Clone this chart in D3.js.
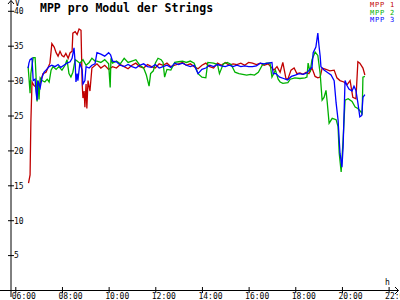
<!DOCTYPE html>
<html>
<head>
<meta charset="utf-8">
<script src="https://cdn.jsdelivr.net/npm/d3@7"></script>
<style>
  body { margin: 0; background: #fff; }
  svg { display: block; font-family: "DejaVu Sans Mono", monospace; }
</style>
</head>
<body>
<svg id="chart"></svg>
<script>
// Tick labels
const xTicks = [6, 8, 10, 12, 14, 16, 18, 20, 22];
const yTicks = [5, 10, 15, 20, 25, 30, 35, 40];
const seriesNames = ["MPP 1", "MPP 2", "MPP 3"];

// MPP 1 (red)
const mpp1Times = ["06:34","06:38","06:40","06:43","06:48","06:56","07:04","07:11","07:19","07:29","07:34","07:40","07:45","07:50","07:55","08:00","08:05","08:10","08:16","08:21","08:26","08:28","08:34","08:39","08:44","08:49","08:52","08:54","08:57","08:59","09:02","09:04","09:07","09:12","09:17",
  "09:30","09:40","09:50","10:00","10:10","10:20","10:30","10:40","10:50","11:00","11:10","11:20","11:30","11:40","11:50","12:00","12:10","12:20","12:30","12:40","12:50","13:00","13:10","13:20","13:30","13:40","13:50","14:00","14:10","14:20","14:30","14:40","14:50","15:00","15:10","15:20","15:30","15:40","15:50","16:00","16:10","16:20","16:30","16:40","16:50",
  "17:05","17:13","17:21","17:28","17:36","17:41","17:49","17:57","18:04","18:12","18:20","18:28","18:35","18:43","18:51","18:58","19:04","19:09","19:19","19:29","19:40","19:47","19:55","20:05","20:13","20:21","20:28","20:36","20:41","20:46","20:54","20:59"];
const mpp1Values = [15.3,16.5,24.0,29.8,29.3,29.0,29.6,31.0,31.2,32.5,35.3,34.8,34.0,33.5,34.2,33.6,33.4,33.9,33.2,34.0,34.2,36.8,37.0,36.6,37.4,37.2,29.5,27.5,28.5,26.2,29.5,26.0,30.0,28.5,31.8,
  32.4,31.8,32.2,31.6,32.0,31.8,32.3,32.0,31.7,32.2,32.5,32.0,31.8,32.3,32.0,31.8,32.4,32.2,32.5,32.0,32.2,32.4,32.6,32.2,32.4,32.0,31.7,32.2,32.5,32.0,31.8,32.5,32.2,32.6,32.2,32.4,32.3,32.5,32.2,32.6,32.5,32.3,32.5,32.2,32.4,
  31.5,32.0,31.2,32.6,30.3,30.2,31.5,31.8,31.0,31.1,30.9,31.2,31.0,31.8,30.6,30.4,30.5,31.8,31.6,31.4,31.5,30.4,30.0,29.8,29.4,30.0,27.6,27.4,32.7,32.5,31.8,30.8];

// MPP 2 (green)
const mpp2Times = ["06:33","06:35","06:38","06:40","06:46","06:51","06:53","06:56","06:58","07:01","07:04","07:09","07:16","07:22","07:27","07:32","07:37","07:45","07:52","08:00","08:08","08:13","08:18","08:23","08:28","08:34","08:39","08:46","08:54","09:02","09:10","09:17","09:25",
  "09:30","09:40","09:50","10:00","10:04","10:06","10:10","10:20","10:30","10:40","10:50","11:00","11:10","11:20","11:30","11:37","11:44","11:48","11:55","12:00","12:07","12:15","12:20","12:24","12:30","12:40","12:50","13:00","13:10","13:20","13:30","13:40","13:50","14:00","14:10","14:15","14:30","14:40","14:45","14:55","15:05","15:15","15:25","15:35","15:45","15:55","16:05","16:15","16:25","16:35","16:45","16:55","17:00",
  "17:09","17:16","17:21","17:28","17:41","17:47","17:59","18:12","18:25","18:30","18:33","18:38","18:43","18:51","18:58","19:04","19:09","19:14","19:19","19:22","19:27","19:35","19:45","19:50","19:53","19:58","20:03","20:08","20:16","20:26","20:34","20:41","20:49","20:52","20:54","20:59"];
const mpp2Values = [32.0,30.5,28.2,31.0,33.3,33.3,31.0,27.0,30.0,27.3,30.4,30.0,29.8,30.2,29.8,31.5,32.0,31.6,32.0,31.5,32.2,33.0,31.0,30.5,31.2,33.0,32.8,32.5,33.0,32.2,32.6,33.2,32.8,
  32.8,32.6,33.0,32.4,29.0,33.2,32.5,32.8,32.4,33.2,32.6,32.8,33.0,32.2,31.8,30.8,29.2,31.0,31.4,32.5,33.2,33.0,32.6,30.5,31.6,31.5,32.6,32.7,32.8,32.6,32.8,32.5,31.0,30.5,30.4,32.6,32.5,32.3,31.0,32.4,32.6,32.3,31.2,31.0,30.9,30.8,30.9,30.8,31.2,32.2,32.5,32.5,30.5,
  31.5,30.2,29.8,29.6,29.7,30.2,30.4,30.3,30.4,30.5,32.5,31.2,33.0,34.1,33.6,31.0,27.2,27.6,28.6,27.0,23.9,24.6,24.4,23.4,19.6,16.9,21.5,27.2,27.4,27.0,26.2,26.0,25.5,25.3,30.5,30.6];

// MPP 3 (blue)
const mpp3Times = ["06:33","06:35","06:38","06:43","06:46","06:51","06:53","06:56","06:58","07:04","07:09","07:14","07:19","07:27","07:34","07:42","07:50","07:57","08:05","08:13","08:21","08:26","08:31","08:34","08:36","08:39","08:41","08:46","08:52","08:54","08:59","09:02","09:10","09:17","09:25",
  "09:30","09:40","09:50","10:00","10:05","10:10","10:20","10:30","10:40","10:50","11:00","11:10","11:20","11:30","11:40","11:50","12:00","12:10","12:20","12:30","12:40","12:50","13:00","13:10","13:20","13:30","13:40","13:50","14:00","14:10","14:20","14:30","14:40","14:50","15:00","15:10","15:20","15:30","15:40","15:50","16:00","16:10","16:20","16:30","16:40","16:50","17:00",
  "17:03","17:10","17:20","17:30","17:40","17:50","18:00","18:10","18:20","18:30","18:37","18:43","18:46","18:53","18:58","19:01","19:04","19:06","19:14","19:22","19:32","19:40","19:45","19:50","19:55","20:00","20:03","20:08","20:13","20:18","20:26","20:31","20:36","20:41","20:46","20:51","20:54","20:59"];
const mpp3Values = [31.8,32.5,33.0,33.2,30.0,30.2,28.5,27.2,30.0,29.0,30.5,31.2,31.5,32.0,32.2,32.0,32.3,31.9,32.2,32.5,32.7,33.2,34.7,32.5,29.8,31.0,30.0,32.5,31.5,29.5,30.0,32.0,31.8,32.2,32.4,
  34.0,33.8,33.5,34.0,33.7,32.8,32.7,32.2,32.0,32.3,32.0,31.8,32.2,32.4,32.0,31.9,32.3,31.8,32.0,32.2,31.9,32.5,32.3,32.5,32.2,32.0,32.2,31.0,31.6,31.8,32.2,32.0,32.3,32.1,32.0,32.2,32.0,32.2,32.0,32.1,32.0,32.0,32.1,32.5,32.4,32.5,32.6,
  31.0,31.0,30.5,30.3,30.1,30.6,30.8,31.0,30.9,31.1,31.6,31.9,34.0,34.8,36.8,35.0,33.5,32.0,31.5,31.2,30.8,30.0,26.8,24.4,19.6,17.6,20.5,30.0,29.3,28.8,28.5,29.2,28.6,26.8,24.8,25.0,27.6,28.0];

const colors = ["#c00000", "#00b000", "#0000ff"];

const width = 400;
const height = 300;

const svg = d3.select("#chart")
    .attr("width", width)
    .attr("height", height);

// Scales (hours of day / volts)
const x = d3.scaleLinear().domain([6, 22]).range([15.3, 388.6]);
const y = d3.scaleLinear().domain([0, 40]).range([290, 10.8]);

const toHours = s => {
  const [h, m] = s.split(":").map(Number);
  return h + m / 60;
};

const series = [
  { name: seriesNames[0], color: colors[0], data: mpp1Times.map((t, i) => [toHours(t), mpp1Values[i]]) },
  { name: seriesNames[1], color: colors[1], data: mpp2Times.map((t, i) => [toHours(t), mpp2Values[i]]) },
  { name: seriesNames[2], color: colors[2], data: mpp3Times.map((t, i) => [toHours(t), mpp3Values[i]]) }
];

// Lines
const line = d3.line()
    .x(d => x(d[0]))
    .y(d => y(d[1]));

svg.selectAll(".series")
    .data(series)
    .enter()
    .append("path")
    .attr("class", "series")
    .attr("d", d => line(d.data))
    .attr("fill", "none")
    .attr("stroke", d => d.color)
    .attr("stroke-width", 1.3)
    .attr("stroke-linejoin", "miter");

// Y axis (labels to the right of the axis line)
const yAxis = d3.axisRight(y)
    .tickValues(yTicks)
    .tickFormat(d3.format("d"));

const yg = svg.append("g")
    .attr("transform", "translate(11,0)")
    .call(yAxis);
yg.select(".domain").remove();
yg.selectAll(".tick line").attr("x1", -3).attr("x2", 3).attr("stroke", "#000");
yg.selectAll(".tick text")
    .attr("x", 3)
    .attr("dy", "0.35em")
    .attr("font-size", 8)
    .attr("font-family", "DejaVu Sans Mono")
    .attr("fill", "#000");

// X axis
const xAxis = d3.axisBottom(x)
    .tickValues(xTicks)
    .tickFormat(d => d3.format("02d")(d) + ":00");

const xg = svg.append("g")
    .attr("transform", "translate(0,290)")
    .call(xAxis);
xg.select(".domain").remove();
xg.selectAll(".tick line").attr("y1", -3).attr("y2", 3).attr("stroke", "#000");
xg.selectAll(".tick text")
    .attr("x", -4)
    .attr("y", 9)
    .attr("dy", null)
    .attr("text-anchor", "start")
    .attr("font-size", 8)
    .attr("font-family", "DejaVu Sans Mono")
    .attr("fill", "#000");

// Axis lines with arrows
svg.append("path")
    .attr("d", "M11,297V0.5M8,4L11,0.5L14,4")
    .attr("fill", "none")
    .attr("stroke", "#000");
svg.append("path")
    .attr("d", "M0,290.5H398.5M395,287L398.5,290.5L395,294")
    .attr("fill", "none")
    .attr("stroke", "#000");

// Unit labels
svg.append("text").attr("x", 15).attr("y", 6).attr("font-size", 8).text("V");
svg.append("text").attr("x", 385).attr("y", 285).attr("font-size", 8).text("h");

// Title
svg.append("text")
    .attr("x", 40)
    .attr("y", 12)
    .attr("font-size", 11.5)
    .attr("font-weight", "bold")
    .text("MPP pro Modul der Strings");

// Legend
svg.selectAll(".legend")
    .data(series)
    .enter()
    .append("text")
    .attr("class", "legend")
    .attr("x", 395)
    .attr("y", (d, i) => 7 + i * 7.5)
    .attr("text-anchor", "end")
    .attr("font-size", 7)
    .attr("letter-spacing", 0.8)
    .attr("fill", d => d.color)
    .text(d => d.name);
</script>
</body>
</html>
